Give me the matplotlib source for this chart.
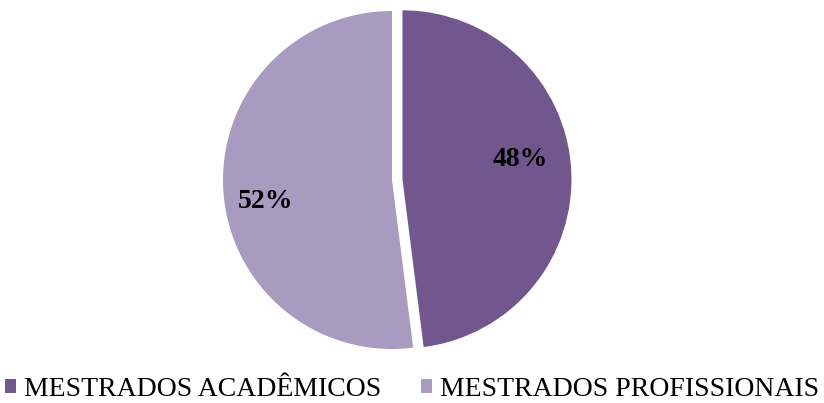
import matplotlib.pyplot as plt
from matplotlib.patches import Patch

categories = ['MESTRADOS ACADÊMICOS', 'MESTRADOS PROFISSIONAIS']
values = [48, 52]
colors = ['#72578F', '#A99BC0']

plt.rcParams['font.family'] = ['Liberation Serif', 'DejaVu Serif']

fig = plt.figure(figsize=(8.24, 4.03), dpi=100)
W, H = 824, 403
cx, cy, r = 392, 180, 169
ax = fig.add_axes([(cx - r) / W, (H - cy - r) / H, 2 * r / W, 2 * r / H])

wedges, texts, autotexts = ax.pie(values, colors=colors, startangle=90, counterclock=False,
                                  explode=(0.062, 0), autopct='%1.0f%%', pctdistance=0.75,
                                  textprops=dict(fontsize=20, fontweight='bold', color='black'))
for w in wedges:
    w.set_clip_on(False)
autotexts[0].set_position((0.76, 0.12))
autotexts[1].set_position((-0.75, -0.13))
ax.set_xlim(-1, 1)
ax.set_ylim(-1, 1)
ax.set_aspect('equal')
ax.axis('off')

handles = [Patch(facecolor=c, edgecolor='none') for c in colors]
fig.legend(handles, categories, loc='center', bbox_to_anchor=(0.5, (H - 389) / H),
           ncol=2, frameon=False, fontsize=20, handlelength=0.4, handleheight=0.4,
           handletextpad=0.3, columnspacing=1.4)

fig.savefig('out.png', dpi=100)
